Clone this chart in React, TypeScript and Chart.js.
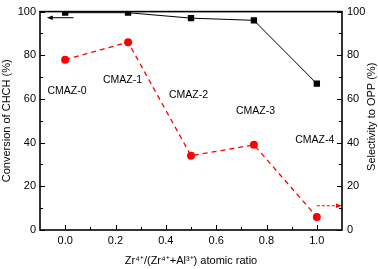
import React, { useEffect, useRef } from "react";
import { Chart, registerables } from "chart.js";

Chart.register(...registerables);

const ratios = [0.0, 0.25, 0.5, 0.75, 1.0];
const conversion = [78, 86, 34, 39, 6];
const selectivity = [99.5, 99.5, 97, 96, 67];
const sampleNames = ["CMAZ-0", "CMAZ-1", "CMAZ-2", "CMAZ-3", "CMAZ-4"];
const labelX = [0.007, 0.228, 0.49, 0.756, 0.992];
const labelY = [63.7, 68.6, 61.8, 54.5, 41.2];
const xTicks = [0.0, 0.2, 0.4, 0.6, 0.8, 1.0];
const xMinorTicks = [0.1, 0.3, 0.5, 0.7, 0.9];
const yTicks = [0, 20, 40, 60, 80, 100];
const yMinorTicks = [10, 30, 50, 70, 90];
// arrows: [xFrom, xTo, yValue]
const convArrow = [0.033, -0.073, 97.2];
const selArrow = [1.0, 1.1, 11.1];
const rightTitle = "Selectivity to OPP (%)";

const FONT = "'Liberation Sans', Arial, sans-serif";

const decorPlugin = {
  id: "decor",
  afterDatasetsDraw(chart: any) {
    const { ctx } = chart;
    const x = chart.scales.x;
    const y = chart.scales.y;
    const y2 = chart.scales.y2;
    ctx.save();
    ctx.fillStyle = "#000";
    ctx.font = `10.5px ${FONT}`;
    ctx.textAlign = "center";
    ctx.textBaseline = "middle";
    sampleNames.forEach((n, i) => {
      ctx.fillText(n, x.getPixelForValue(labelX[i]), y.getPixelForValue(labelY[i]));
    });
    const drawArrow = (a: number[], scale: any, color: string, dash: number[], lw: number) => {
      const x0 = x.getPixelForValue(a[0]);
      const x1 = x.getPixelForValue(a[1]);
      const yy = scale.getPixelForValue(a[2]);
      const dir = Math.sign(x1 - x0);
      ctx.strokeStyle = color;
      ctx.fillStyle = color;
      ctx.lineWidth = lw;
      ctx.setLineDash(dash);
      ctx.beginPath();
      ctx.moveTo(x0, yy);
      ctx.lineTo(x1 - dir * 5, yy);
      ctx.stroke();
      ctx.setLineDash([]);
      ctx.beginPath();
      ctx.moveTo(x1, yy);
      ctx.lineTo(x1 - dir * 6, yy - 2.2);
      ctx.lineTo(x1 - dir * 6, yy + 2.2);
      ctx.closePath();
      ctx.fill();
    };
    drawArrow(convArrow, y, "#000", [], 1);
    drawArrow(selArrow, y2, "#ff0000", [3, 2], 1);
    ctx.restore();
  },
  afterDraw(chart: any) {
    const { ctx, chartArea } = chart;
    const { left, right, top, bottom } = chartArea;
    const x = chart.scales.x;
    const y = chart.scales.y;
    const y2 = chart.scales.y2;
    ctx.save();
    ctx.strokeStyle = "#000";
    ctx.lineWidth = 1;
    ctx.beginPath();
    xTicks.forEach((v) => {
      const px = Math.round(x.getPixelForValue(v)) + 0.5;
      ctx.moveTo(px, bottom);
      ctx.lineTo(px, bottom - 5);
    });
    xMinorTicks.forEach((v) => {
      const px = Math.round(x.getPixelForValue(v)) + 0.5;
      ctx.moveTo(px, bottom);
      ctx.lineTo(px, bottom - 3);
    });
    yTicks.forEach((v) => {
      const py = Math.round(y.getPixelForValue(v)) + 0.5;
      ctx.moveTo(left, py);
      ctx.lineTo(left + 5, py);
      const py2 = Math.round(y2.getPixelForValue(v)) + 0.5;
      ctx.moveTo(right, py2);
      ctx.lineTo(right - 5, py2);
    });
    yMinorTicks.forEach((v) => {
      const py = Math.round(y.getPixelForValue(v)) + 0.5;
      ctx.moveTo(left, py);
      ctx.lineTo(left + 3, py);
      const py2 = Math.round(y2.getPixelForValue(v)) + 0.5;
      ctx.moveTo(right, py2);
      ctx.lineTo(right - 3, py2);
    });
    ctx.stroke();
    ctx.lineWidth = 1.6;
    ctx.strokeRect(left, top, right - left, bottom - top);
    // right axis title, reading bottom-to-top
    ctx.fillStyle = "#000";
    ctx.font = `11px ${FONT}`;
    ctx.textAlign = "center";
    ctx.textBaseline = "middle";
    ctx.translate(y2.right - 6.5, (top + bottom) / 2 - 4);
    ctx.rotate(-Math.PI / 2);
    ctx.fillText(rightTitle, 0, 0);
    ctx.restore();
  },
};

export default function App() {
  const ref = useRef<HTMLCanvasElement>(null);
  useEffect(() => {
    if (!ref.current) return;
    const tickFont = { family: FONT, size: 11 };
    const chart = new Chart(ref.current, {
      type: "line",
      data: {
        datasets: [
          {
            label: "Selectivity",
            data: ratios.map((r, i) => ({ x: r, y: selectivity[i] })),
            yAxisID: "y2",
            borderColor: "#000",
            backgroundColor: "#000",
            borderWidth: 1,
            pointStyle: "rect",
            pointRadius: 4.5,
            pointBorderWidth: 0,
          },
          {
            label: "Conversion",
            data: ratios.map((r, i) => ({ x: r, y: conversion[i] })),
            yAxisID: "y",
            borderColor: "#ff0000",
            backgroundColor: "#ff0000",
            borderWidth: 1.3,
            borderDash: [5, 4],
            pointStyle: "circle",
            pointRadius: 4,
            pointBorderWidth: 0,
          },
        ],
      },
      options: {
        animation: false,
        responsive: false,
        maintainAspectRatio: false,
        layout: { padding: { top: 5, left: 0, right: 0, bottom: 0 } },
        plugins: { legend: { display: false }, tooltip: { enabled: false } },
        scales: {
          x: {
            type: "linear",
            min: -0.1,
            max: 1.1,
            grid: { display: false, drawTicks: false },
            border: { display: false },
            afterBuildTicks: (s: any) => {
              s.ticks = xTicks.map((v) => ({ value: v }));
            },
            afterFit: (s: any) => {
              s.height = 39;
            },
            ticks: {
              color: "#000",
              font: tickFont,
              padding: 4,
              maxRotation: 0,
              autoSkip: false,
              callback: (v: any) => Number(v).toFixed(1),
            },
            title: {
              display: true,
              text: "Zr⁴⁺/(Zr⁴⁺+Al³⁺) atomic ratio",
              color: "#000",
              font: tickFont,
              padding: { top: 0, bottom: 1.5 },
            },
          },
          y: {
            type: "linear",
            position: "left",
            min: 0,
            max: 100,
            grid: { display: false, drawTicks: false },
            border: { display: false },
            afterBuildTicks: (s: any) => {
              s.ticks = yTicks.map((v) => ({ value: v }));
            },
            afterFit: (s: any) => {
              s.width = 40;
            },
            ticks: { color: "#000", font: tickFont, padding: 4, autoSkip: false },
            title: {
              display: true,
              text: "Conversion of CHCH (%)",
              color: "#000",
              font: tickFont,
              padding: { top: 0, bottom: 0 },
            },
          },
          y2: {
            type: "linear",
            position: "right",
            min: 0,
            max: 100,
            grid: { display: false, drawTicks: false },
            border: { display: false },
            afterBuildTicks: (s: any) => {
              s.ticks = yTicks.map((v) => ({ value: v }));
            },
            afterFit: (s: any) => {
              s.width = 36;
            },
            ticks: { color: "#000", font: tickFont, padding: 5, autoSkip: false },
            title: { display: false },
          },
        },
      },
      plugins: [decorPlugin],
    } as any);
    return () => chart.destroy();
  }, []);
  return (
    <div style={{ position: "fixed", left: 0, top: 0, width: 378, height: 269, background: "#fff" }}>
      <canvas ref={ref} width={378} height={269} style={{ display: "block", width: 378, height: 269 }} />
    </div>
  );
}
